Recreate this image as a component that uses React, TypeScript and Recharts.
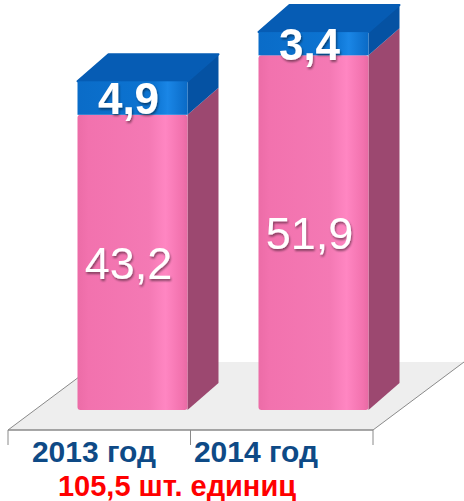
import React from "react";
import { BarChart, Bar, XAxis, YAxis, LabelList, Customized } from "recharts";

const categories = ["2013 год", "2014 год"];
const pinkValues = [43.2, 51.9];
const blueValues = [4.9, 3.4];
const totalLabel = "105,5 шт. единиц";

const data = categories.map((c, i) => ({ name: c, pink: pinkValues[i], blue: blueValues[i] }));

const W = 464;
const H = 501;
const MARGIN = { top: 0, right: 60.5, bottom: 61, left: 41.5 };
const DX = 31;
const DY = 27;
const FONT = "'Liberation Sans', Arial, sans-serif";
const LABEL_SHIFT = [-38, -57];

const fmt = (v: number) => String(v).replace(".", ",");

const PinkShape = (props: any) => {
  const { x, y, width, height } = props;
  if (width == null || height == null) return null;
  const side = `${x + width},${y + height} ${x + width + DX},${y + height - DY} ${x + width + DX},${y - DY} ${x + width},${y}`;
  return (
    <g>
      <polygon points={side} fill="#9C4870" />
      <rect x={x} y={y} width={width} height={height} fill="url(#pinkGrad)" rx={3} />
    </g>
  );
};

const BlueShape = (props: any) => {
  const { x, y, width, height } = props;
  if (width == null || height == null) return null;
  const side = `${x + width},${y + height} ${x + width + DX},${y + height - DY} ${x + width + DX},${y - DY} ${x + width},${y}`;
  const top = `${x},${y} ${x + DX},${y - DY} ${x + width + DX},${y - DY} ${x + width},${y}`;
  return (
    <g>
      <polygon points={side} fill="#0552A3" />
      <polygon points={top} fill="#065CB4" stroke="#065CB4" strokeWidth={2} strokeLinejoin="round" />
      <rect x={x} y={y} width={width} height={height} fill="url(#blueGrad)" />
    </g>
  );
};

const ValueLabel = (bold: boolean, size: number) => (props: any) => {
  const { x, y, width, height, value } = props;
  return (
    <text
      x={x + width / 2 - 4}
      y={y + height / 2}
      dy="0.36em"
      textAnchor="middle"
      fill="#ffffff"
      fontFamily={FONT}
      fontSize={size}
      fontWeight={bold ? "bold" : "normal"}
      filter="url(#txtShadow)"
    >
      {fmt(value)}
    </text>
  );
};

const CategoryTick = (props: any) => {
  const { x, y, payload, index } = props;
  return (
    <text
      x={x + (LABEL_SHIFT[index] ?? 0)}
      y={y + 44}
      textAnchor="middle"
      fill="#0E4A86"
      fontFamily={FONT}
      fontSize={30}
      fontWeight="bold"
    >
      {payload.value}
    </text>
  );
};

const Floor = () => {
  const baseY = H - MARGIN.bottom - 30;
  const fy = baseY + 20;
  const fx1 = 8;
  const fx2 = 373;
  const bx = 91;
  const by = 68;
  const pts = `${fx1},${fy} ${fx2},${fy} ${fx2 + bx},${fy - by} ${fx1 + bx},${fy - by}`;
  return (
    <g>
      <polygon points={pts} fill="#EEEEEE" />
      <line x1={fx1} y1={fy} x2={fx1 + bx} y2={fy - by} stroke="#8a8a8a" strokeWidth={1} />
      <line x1={fx2} y1={fy} x2={fx2 + bx} y2={fy - by} stroke="#8a8a8a" strokeWidth={1} />
      <line x1={fx1} y1={fy} x2={fx2} y2={fy} stroke="#8a8a8a" strokeWidth={1.5} />
      <line x1={fx1} y1={fy} x2={fx1} y2={fy + 15} stroke="#8a8a8a" strokeWidth={1} />
      <line x1={(fx1 + fx2) / 2} y1={fy} x2={(fx1 + fx2) / 2} y2={fy + 15} stroke="#8a8a8a" strokeWidth={1} />
      <line x1={fx2} y1={fy} x2={fx2} y2={fy + 15} stroke="#8a8a8a" strokeWidth={1} />
      <text x={177} y={496} textAnchor="middle" fill="#FF0000" fontFamily={FONT} fontSize={29} fontWeight="bold">
        {totalLabel}
      </text>
    </g>
  );
};

export default function App() {
  return (
    <div style={{ position: "absolute", left: 0, top: 0, width: W, height: H, background: "#fff" }}>
      <BarChart width={W} height={H} data={data} margin={MARGIN} barSize={110}>
        <defs>
          <linearGradient id="pinkGrad" x1="0" y1="0" x2="1" y2="0">
            <stop offset="0%" stopColor="#EC6CA7" />
            <stop offset="10%" stopColor="#F272AE" />
            <stop offset="65%" stopColor="#F479B4" />
            <stop offset="80%" stopColor="#FF86C2" />
            <stop offset="95%" stopColor="#F272AE" />
            <stop offset="100%" stopColor="#E86AA4" />
          </linearGradient>
          <linearGradient id="blueGrad" x1="0" y1="0" x2="1" y2="0">
            <stop offset="0%" stopColor="#0A6CC8" />
            <stop offset="70%" stopColor="#0C74D2" />
            <stop offset="82%" stopColor="#1A86E6" />
            <stop offset="100%" stopColor="#0A6AC6" />
          </linearGradient>
          <filter id="txtShadow" x="-20%" y="-20%" width="140%" height="140%">
            <feDropShadow dx="1" dy="2" stdDeviation="1.2" floodColor="#000" floodOpacity="0.45" />
          </filter>
        </defs>
        <Customized component={Floor} />
        <XAxis dataKey="name" axisLine={false} tickLine={false} height={30} tick={<CategoryTick />} interval={0} />
        <YAxis hide domain={[0, 60]} />
        <Bar dataKey="pink" stackId="a" shape={<PinkShape />} isAnimationActive={false}>
          <LabelList dataKey="pink" content={ValueLabel(false, 45)} />
        </Bar>
        <Bar dataKey="blue" stackId="a" shape={<BlueShape />} isAnimationActive={false}>
          <LabelList dataKey="blue" content={ValueLabel(true, 44)} />
        </Bar>
      </BarChart>
    </div>
  );
}
